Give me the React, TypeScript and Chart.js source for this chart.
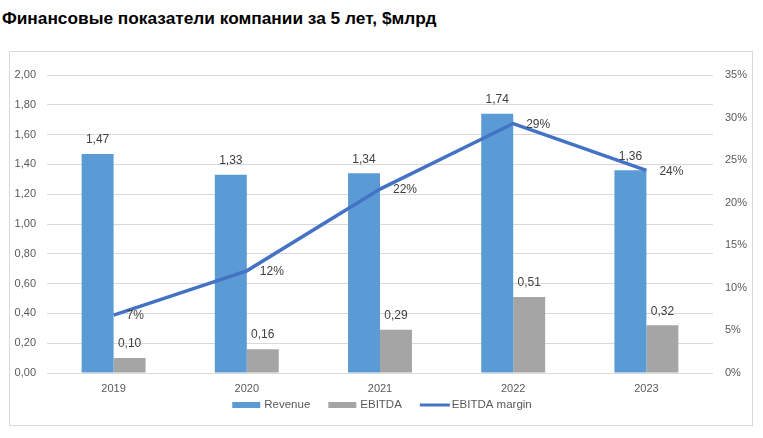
import React, { useEffect, useRef } from "react";
import { Chart, registerables } from "chart.js";

Chart.register(...registerables);

const TITLE = "Финансовые показатели компании за 5 лет, $млрд";
const categories = ["2019", "2020", "2021", "2022", "2023"];
const revenue = [1.47, 1.33, 1.34, 1.74, 1.36];
const ebitda = [0.10, 0.16, 0.29, 0.51, 0.32];
const margin = [0.068, 0.12, 0.216, 0.293, 0.238];
const seriesNames = ["Revenue", "EBITDA", "EBITDA margin"];

const FONT = "'Liberation Sans', Arial, sans-serif";
const fmtNum = (v: number) => v.toFixed(2).replace(".", ",");
const fmtPct = (v: number) => Math.round(v * 100) + "%";

const labelPlugin = {
  id: "dataLabels",
  afterDatasetsDraw(chart: any) {
    const ctx = chart.ctx;
    ctx.save();
    ctx.font = "12px " + FONT;
    ctx.fillStyle = "#404040";
    chart.data.datasets.forEach((ds: any, i: number) => {
      const meta = chart.getDatasetMeta(i);
      meta.data.forEach((el: any, j: number) => {
        const v = ds.data[j];
        if (ds.type === "line") {
          ctx.textAlign = "left";
          ctx.textBaseline = "middle";
          ctx.fillText(fmtPct(v), el.x + 13, el.y + 1);
        } else {
          ctx.textAlign = "center";
          ctx.textBaseline = "middle";
          ctx.fillText(fmtNum(v), el.x, el.y - 14);
        }
      });
    });
    ctx.restore();
  },
};

const legendPlugin = {
  id: "customLegend",
  afterDraw(chart: any) {
    const ctx = chart.ctx;
    const ca = chart.chartArea;
    ctx.save();
    ctx.font = "11.5px " + FONT;
    ctx.textBaseline = "middle";
    ctx.textAlign = "left";
    const y = 353;
    const items = chart.data.datasets.map((ds: any) => ({
      label: ds.label,
      line: ds.type === "line",
      color: ds.type === "line" ? ds.borderColor : ds.backgroundColor,
    }));
    const widths = items.map((it: any) => (it.line ? 30 + 2 : 28 + 4) + ctx.measureText(it.label).width);
    const gap = 18;
    const total = widths.reduce((a: number, b: number) => a + b, 0) + gap * (items.length - 1);
    let x = (ca.left + ca.right) / 2 - total / 2 + 2;
    items.forEach((it: any, k: number) => {
      if (it.line) {
        ctx.strokeStyle = it.color;
        ctx.lineWidth = 3;
        ctx.beginPath();
        ctx.moveTo(x, y);
        ctx.lineTo(x + 30, y);
        ctx.stroke();
        ctx.fillStyle = "#595959";
        ctx.fillText(it.label, x + 32, y);
      } else {
        ctx.fillStyle = it.color;
        ctx.fillRect(x, y - 3, 28, 6);
        ctx.fillStyle = "#595959";
        ctx.fillText(it.label, x + 32, y);
      }
      x += widths[k] + gap;
    });
    ctx.restore();
  },
};

export default function App() {
  const ref = useRef<HTMLCanvasElement | null>(null);
  useEffect(() => {
    document.body.style.margin = "0";
    const chart = new Chart(ref.current as HTMLCanvasElement, {
      type: "bar",
      data: {
        labels: categories,
        datasets: [
          {
            type: "bar",
            label: seriesNames[0],
            data: revenue,
            backgroundColor: "#5B9BD5",
            yAxisID: "y",
            order: 1,
            categoryPercentage: 0.48,
            barPercentage: 1,
          },
          {
            type: "bar",
            label: seriesNames[1],
            data: ebitda,
            backgroundColor: "#A5A5A5",
            yAxisID: "y",
            order: 2,
            categoryPercentage: 0.48,
            barPercentage: 1,
          },
          {
            type: "line",
            label: seriesNames[2],
            data: margin,
            borderColor: "#4472C4",
            backgroundColor: "#4472C4",
            borderWidth: 3.5,
            pointRadius: 0,
            yAxisID: "y1",
            order: 0,
            tension: 0,
          },
        ] as any,
      },
      options: {
        animation: false,
        responsive: false,
        devicePixelRatio: 1,
        layout: { padding: { top: 23, left: 0, right: 0, bottom: 27 } },
        plugins: { legend: { display: false }, tooltip: { enabled: false }, title: { display: false } },
        scales: {
          x: {
            grid: { display: false, drawTicks: false },
            border: { display: false },
            ticks: { font: { family: FONT, size: 11 }, color: "#595959", padding: 9 },
            afterFit: (s: any) => { s.height = 25; },
          },
          y: {
            position: "left",
            min: 0,
            max: 2,
            ticks: { stepSize: 0.2, font: { family: FONT, size: 11 }, color: "#595959", padding: 11, callback: (v: any) => fmtNum(Number(v)) },
            grid: { color: "#D9D9D9", drawTicks: false, lineWidth: 1 },
            border: { display: false },
            afterFit: (s: any) => { s.width = 37; },
          },
          y1: {
            position: "right",
            min: 0,
            max: 0.35,
            ticks: { stepSize: 0.05, font: { family: FONT, size: 11 }, color: "#595959", padding: 12, callback: (v: any) => fmtPct(Number(v)) },
            grid: { display: false, drawTicks: false },
            border: { display: false },
            afterFit: (s: any) => { s.width = 39; },
          },
        },
      } as any,
      plugins: [labelPlugin, legendPlugin],
    });
    return () => chart.destroy();
  }, []);

  return (
    <div style={{ position: "relative", width: 763, height: 438, background: "#fff" }}>
      <div
        style={{
          position: "absolute",
          left: 2,
          top: 8,
          font: "bold 17.3px " + FONT,
          lineHeight: "20px",
          color: "#000",
          whiteSpace: "nowrap",
        }}
      >
        {TITLE}
      </div>
      <div
        style={{
          position: "absolute",
          left: 9,
          top: 51,
          width: 744,
          height: 375,
          boxSizing: "border-box",
          border: "1px solid #D9D9D9",
        }}
      >
        <canvas ref={ref} width={742} height={373} style={{ display: "block", width: 742, height: 373 }} />
      </div>
    </div>
  );
}
